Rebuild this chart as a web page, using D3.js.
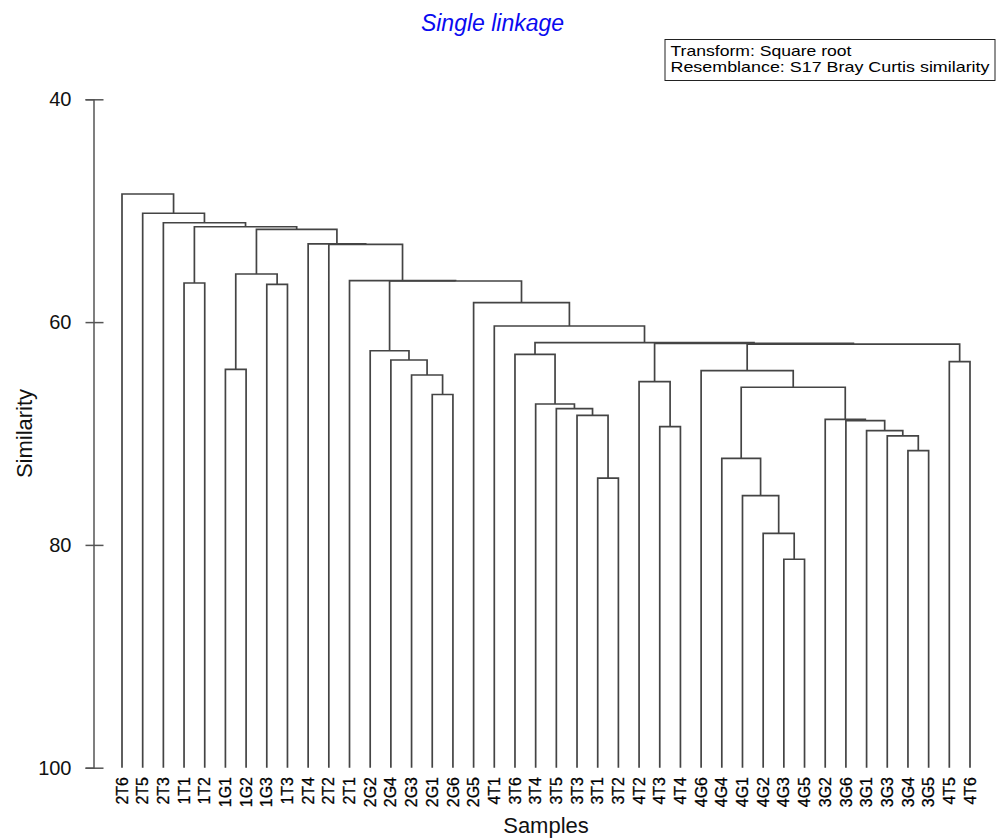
<!DOCTYPE html>
<html>
<head>
<meta charset="utf-8">
<script src="https://cdn.jsdelivr.net/npm/d3@7"></script>
<style>
  body { margin: 0; background: #fff; }
  svg { display: block; font-family: "Liberation Sans", Arial, sans-serif; }
</style>
</head>
<body>
<div id="chart"></div>
<script>
// leaf order along the x axis
const leaves = ["2T6","2T5","2T3","1T1","1T2","1G1","1G2","1G3","1T3","2T4","2T2","2T1",
  "2G2","2G4","2G3","2G1","2G6","2G5","4T1","3T6","3T4","3T5","3T3","3T1","3T2",
  "4T2","4T3","4T4","4G6","4G4","4G1","4G2","4G3","4G5","3G2","3G6","3G1","3G3",
  "3G4","3G5","4T5","4T6"];

// merges: [node id, child a, child b, similarity]
const merges = [
  ["a1","1T1","1T2",56.49],
  ["a2","1G1","1G2",64.24],
  ["a3","1G3","1T3",56.61],
  ["a4","a2","a3",55.68],
  ["b1","2G1","2G6",66.5],
  ["b2","2G3","b1",64.75],
  ["b3","2G4","b2",63.40],
  ["b4","2G2","b3",62.57],
  ["c1","3T1","3T2",74.0],
  ["c2","3T3","c1",68.37],
  ["c3","3T5","c2",67.77],
  ["c4","3T4","c3",67.35],
  ["c5","3T6","c4",62.89],
  ["d1","4T3","4T4",69.39],
  ["d2","4T2","d1",65.35],
  ["e1","4G3","4G5",81.29],
  ["e2","4G2","e1",78.96],
  ["e3","4G1","e2",75.58],
  ["e4","4G4","e3",72.23],
  ["f1","3G4","3G5",71.54],
  ["f2","3G3","f1",70.22],
  ["f3","3G1","f2",69.75],
  ["f4","3G6","f3",68.85],
  ["f5","3G2","f4",68.74],
  ["e5","e4","f5",65.85],
  ["e6","4G6","e5",64.35],
  ["g1","4T5","4T6",63.55],
  ["g2","e6","g1",61.97],
  ["g3","d2","g2",61.91],
  ["g4","c5","g3",61.85],
  ["h1","4T1","g4",60.35],
  ["h2","2G5","h1",58.26],
  ["h3","b4","h2",56.31],
  ["h4","2T1","h3",56.27],
  ["h5","2T2","h4",53.02],
  ["h6","2T4","h5",52.98],
  ["h7","a4","h6",51.67],
  ["h8","a1","h7",51.44],
  ["h9","2T3","h8",51.08],
  ["h10","2T5","h9",50.23],
  ["h11","2T6","h10",48.50]
];

const yTicks = [40, 60, 80, 100];
const titleText = "Single linkage";
const legendLines = ["Transform: Square root", "Resemblance: S17 Bray Curtis similarity"];

const width = 997, height = 838;
const cfg = { axisX: 93.5, top: 99.3, bottom: 767.7, left: 122, right: 970 };

const svg = d3.select("#chart").append("svg")
  .attr("width", width)
  .attr("height", height);

const x = d3.scalePoint().domain(leaves).range([cfg.left, cfg.right]);
const y = d3.scaleLinear().domain([40, 100]).range([cfg.top, cfg.bottom]);

// node positions: leaves at similarity 100, merges at midpoint of children
const pos = {};
leaves.forEach(l => pos[l] = { x: x(l), s: 100 });
merges.forEach(([id, a, b, s]) => {
  pos[id] = { x: (pos[a].x + pos[b].x) / 2, s: s };
});

// dendrogram
svg.append("g")
  .selectAll("path")
  .data(merges)
  .enter()
  .append("path")
  .attr("d", ([id, a, b, s]) =>
    "M" + pos[a].x + "," + y(pos[a].s) +
    "V" + y(s) + "H" + pos[b].x + "V" + y(pos[b].s))
  .attr("fill", "none")
  .attr("stroke", "#444")
  .attr("stroke-width", 1.7);

// y axis
const yAxis = svg.append("g")
  .attr("transform", "translate(" + cfg.axisX + ",0)")
  .call(d3.axisLeft(y).tickValues(yTicks).tickSizeOuter(0).tickSize(8).tickPadding(14));
yAxis.select(".domain").attr("stroke", "#555").attr("stroke-width", 1.5);
yAxis.selectAll(".tick line").attr("x1", -8).attr("x2", 10).attr("stroke", "#555").attr("stroke-width", 1.5);
yAxis.selectAll(".tick text")
  .attr("font-size", 20)
  .attr("font-family", "Liberation Sans, Arial, sans-serif")
  .attr("fill", "#111");

// leaf labels
svg.append("g")
  .selectAll("text")
  .data(leaves)
  .enter()
  .append("text")
  .attr("transform", d => "translate(" + x(d) + ",777) rotate(-90)")
  .attr("text-anchor", "end")
  .attr("dy", "0.35em")
  .attr("font-size", 16)
  .attr("fill", "#000")
  .attr("stroke", "#000")
  .attr("stroke-width", 0.3)
  .text(d => d);

// axis titles
svg.append("text")
  .attr("x", (cfg.left + cfg.right) / 2)
  .attr("y", 833)
  .attr("text-anchor", "middle")
  .attr("font-size", 22)
  .attr("fill", "#111")
  .text("Samples");

svg.append("text")
  .attr("transform", "translate(32," + (cfg.top + cfg.bottom) / 2 + ") rotate(-90)")
  .attr("text-anchor", "middle")
  .attr("font-size", 22)
  .attr("fill", "#111")
  .text("Similarity");

// title
svg.append("text")
  .attr("x", 492.5)
  .attr("y", 31)
  .attr("text-anchor", "middle")
  .attr("font-size", 23)
  .attr("font-style", "italic")
  .attr("fill", "#0a0af0")
  .text(titleText);

// legend box
const legend = svg.append("g").attr("transform", "translate(665,39.5)");
legend.append("rect")
  .attr("width", 330)
  .attr("height", 41)
  .attr("fill", "#fff")
  .attr("stroke", "#222")
  .attr("stroke-width", 1);
legend.selectAll("text")
  .data(legendLines)
  .enter()
  .append("text")
  .attr("x", 5.5)
  .attr("y", (d, i) => 16.5 + i * 15.5)
  .attr("font-size", 15)
  .attr("fill", "#000")
  .attr("textLength", (d, i) => i === 0 ? 181 : 319)
  .attr("lengthAdjust", "spacingAndGlyphs")
  .text(d => d);
</script>
</body>
</html>
